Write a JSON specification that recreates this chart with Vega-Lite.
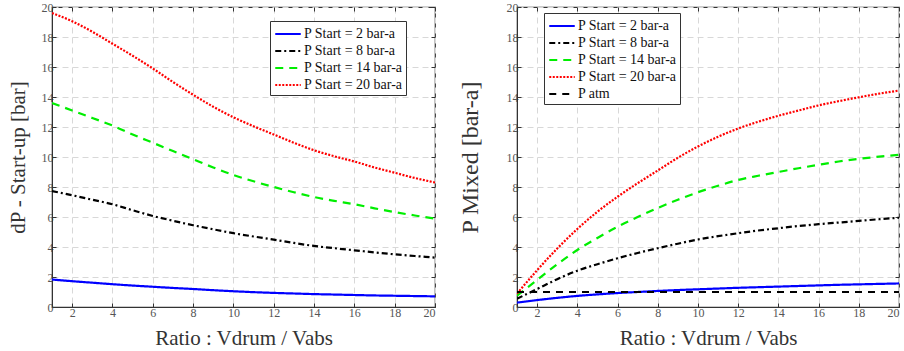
{
  "$schema": "https://vega.github.io/schema/vega-lite/v6.json",
  "padding": {"left": 6, "top": 0, "right": 4, "bottom": 2},
  "background": "white",
  "spacing": 20,
  "config": {
    "font": "Liberation Serif, Times New Roman, serif",
    "view": {"stroke": "#333", "strokeWidth": 1.2},
    "axis": {
      "labelFont": "Liberation Serif, Times New Roman, serif", "labelFontSize": 12, "labelColor": "#555",
      "titleFont": "Liberation Serif, Times New Roman, serif", "titleFontSize": 21, "titleFontWeight": "normal", "titleColor": "#333",
      "gridDash": [6, 4], "gridColor": "#d8d8d8", "gridWidth": 1,
      "domainColor": "#333", "tickColor": "#333", "tickSize": -4, "labelPadding": 4
    },
    "legend": {
      "labelFont": "Liberation Serif, Times New Roman, serif", "labelFontSize": 14, "labelColor": "#111",
      "strokeColor": "#333", "fillColor": "white", "padding": 3, "rowPadding": 0,
      "symbolType": "M-1.5,0H1.5", "symbolSize": 289, "symbolStrokeWidth": 2.2,
      "symbolOffset": 5, "labelOffset": 6
    }
  },
  "datasets": {
    "dp": [
      {"s":"P Start = 2 bar-a","x":1,"y":1.83},{"s":"P Start = 2 bar-a","x":2,"y":1.72},{"s":"P Start = 2 bar-a","x":3,"y":1.62},{"s":"P Start = 2 bar-a","x":4,"y":1.52},{"s":"P Start = 2 bar-a","x":5,"y":1.43},{"s":"P Start = 2 bar-a","x":6,"y":1.35},{"s":"P Start = 2 bar-a","x":7,"y":1.27},{"s":"P Start = 2 bar-a","x":8,"y":1.2},{"s":"P Start = 2 bar-a","x":9,"y":1.12},{"s":"P Start = 2 bar-a","x":10,"y":1.05},{"s":"P Start = 2 bar-a","x":11,"y":0.99},{"s":"P Start = 2 bar-a","x":12,"y":0.94},{"s":"P Start = 2 bar-a","x":13,"y":0.9},{"s":"P Start = 2 bar-a","x":14,"y":0.86},{"s":"P Start = 2 bar-a","x":15,"y":0.83},{"s":"P Start = 2 bar-a","x":16,"y":0.8},{"s":"P Start = 2 bar-a","x":17,"y":0.77},{"s":"P Start = 2 bar-a","x":18,"y":0.75},{"s":"P Start = 2 bar-a","x":19,"y":0.73},{"s":"P Start = 2 bar-a","x":20,"y":0.71},
      {"s":"P Start = 8 bar-a","x":1,"y":7.73},{"s":"P Start = 8 bar-a","x":2,"y":7.45},{"s":"P Start = 8 bar-a","x":3,"y":7.15},{"s":"P Start = 8 bar-a","x":4,"y":6.85},{"s":"P Start = 8 bar-a","x":5,"y":6.45},{"s":"P Start = 8 bar-a","x":6,"y":6.07},{"s":"P Start = 8 bar-a","x":7,"y":5.75},{"s":"P Start = 8 bar-a","x":8,"y":5.45},{"s":"P Start = 8 bar-a","x":9,"y":5.18},{"s":"P Start = 8 bar-a","x":10,"y":4.92},{"s":"P Start = 8 bar-a","x":11,"y":4.7},{"s":"P Start = 8 bar-a","x":12,"y":4.49},{"s":"P Start = 8 bar-a","x":13,"y":4.27},{"s":"P Start = 8 bar-a","x":14,"y":4.07},{"s":"P Start = 8 bar-a","x":15,"y":3.92},{"s":"P Start = 8 bar-a","x":16,"y":3.78},{"s":"P Start = 8 bar-a","x":17,"y":3.64},{"s":"P Start = 8 bar-a","x":18,"y":3.51},{"s":"P Start = 8 bar-a","x":19,"y":3.4},{"s":"P Start = 8 bar-a","x":20,"y":3.29},
      {"s":"P Start = 14 bar-a","x":1,"y":13.6},{"s":"P Start = 14 bar-a","x":2,"y":13.1},{"s":"P Start = 14 bar-a","x":3,"y":12.6},{"s":"P Start = 14 bar-a","x":4,"y":12.1},{"s":"P Start = 14 bar-a","x":5,"y":11.5},{"s":"P Start = 14 bar-a","x":6,"y":10.95},{"s":"P Start = 14 bar-a","x":7,"y":10.4},{"s":"P Start = 14 bar-a","x":8,"y":9.85},{"s":"P Start = 14 bar-a","x":9,"y":9.3},{"s":"P Start = 14 bar-a","x":10,"y":8.8},{"s":"P Start = 14 bar-a","x":11,"y":8.38},{"s":"P Start = 14 bar-a","x":12,"y":8.0},{"s":"P Start = 14 bar-a","x":13,"y":7.65},{"s":"P Start = 14 bar-a","x":14,"y":7.33},{"s":"P Start = 14 bar-a","x":15,"y":7.08},{"s":"P Start = 14 bar-a","x":16,"y":6.85},{"s":"P Start = 14 bar-a","x":17,"y":6.58},{"s":"P Start = 14 bar-a","x":18,"y":6.33},{"s":"P Start = 14 bar-a","x":19,"y":6.1},{"s":"P Start = 14 bar-a","x":20,"y":5.89},
      {"s":"P Start = 20 bar-a","x":1,"y":19.6},{"s":"P Start = 20 bar-a","x":2,"y":19.05},{"s":"P Start = 20 bar-a","x":3,"y":18.35},{"s":"P Start = 20 bar-a","x":4,"y":17.55},{"s":"P Start = 20 bar-a","x":5,"y":16.75},{"s":"P Start = 20 bar-a","x":6,"y":15.9},{"s":"P Start = 20 bar-a","x":7,"y":15.0},{"s":"P Start = 20 bar-a","x":8,"y":14.15},{"s":"P Start = 20 bar-a","x":9,"y":13.35},{"s":"P Start = 20 bar-a","x":10,"y":12.65},{"s":"P Start = 20 bar-a","x":11,"y":12.05},{"s":"P Start = 20 bar-a","x":12,"y":11.5},{"s":"P Start = 20 bar-a","x":13,"y":10.95},{"s":"P Start = 20 bar-a","x":14,"y":10.45},{"s":"P Start = 20 bar-a","x":15,"y":10.05},{"s":"P Start = 20 bar-a","x":16,"y":9.7},{"s":"P Start = 20 bar-a","x":17,"y":9.3},{"s":"P Start = 20 bar-a","x":18,"y":8.95},{"s":"P Start = 20 bar-a","x":19,"y":8.6},{"s":"P Start = 20 bar-a","x":20,"y":8.3}
    ],
    "pm": [
      {"s":"P Start = 2 bar-a","x":1,"y":0.29},{"s":"P Start = 2 bar-a","x":2,"y":0.46},{"s":"P Start = 2 bar-a","x":3,"y":0.61},{"s":"P Start = 2 bar-a","x":4,"y":0.74},{"s":"P Start = 2 bar-a","x":5,"y":0.84},{"s":"P Start = 2 bar-a","x":6,"y":0.93},{"s":"P Start = 2 bar-a","x":7,"y":1.0},{"s":"P Start = 2 bar-a","x":8,"y":1.07},{"s":"P Start = 2 bar-a","x":9,"y":1.13},{"s":"P Start = 2 bar-a","x":10,"y":1.18},{"s":"P Start = 2 bar-a","x":11,"y":1.23},{"s":"P Start = 2 bar-a","x":12,"y":1.28},{"s":"P Start = 2 bar-a","x":13,"y":1.32},{"s":"P Start = 2 bar-a","x":14,"y":1.36},{"s":"P Start = 2 bar-a","x":15,"y":1.4},{"s":"P Start = 2 bar-a","x":16,"y":1.44},{"s":"P Start = 2 bar-a","x":17,"y":1.48},{"s":"P Start = 2 bar-a","x":18,"y":1.51},{"s":"P Start = 2 bar-a","x":19,"y":1.54},{"s":"P Start = 2 bar-a","x":20,"y":1.57},
      {"s":"P Start = 8 bar-a","x":1,"y":0.55},{"s":"P Start = 8 bar-a","x":2,"y":1.2},{"s":"P Start = 8 bar-a","x":3,"y":1.85},{"s":"P Start = 8 bar-a","x":4,"y":2.42},{"s":"P Start = 8 bar-a","x":5,"y":2.85},{"s":"P Start = 8 bar-a","x":6,"y":3.25},{"s":"P Start = 8 bar-a","x":7,"y":3.6},{"s":"P Start = 8 bar-a","x":8,"y":3.92},{"s":"P Start = 8 bar-a","x":9,"y":4.22},{"s":"P Start = 8 bar-a","x":10,"y":4.5},{"s":"P Start = 8 bar-a","x":11,"y":4.72},{"s":"P Start = 8 bar-a","x":12,"y":4.92},{"s":"P Start = 8 bar-a","x":13,"y":5.1},{"s":"P Start = 8 bar-a","x":14,"y":5.25},{"s":"P Start = 8 bar-a","x":15,"y":5.4},{"s":"P Start = 8 bar-a","x":16,"y":5.52},{"s":"P Start = 8 bar-a","x":17,"y":5.63},{"s":"P Start = 8 bar-a","x":18,"y":5.74},{"s":"P Start = 8 bar-a","x":19,"y":5.85},{"s":"P Start = 8 bar-a","x":20,"y":5.95},
      {"s":"P Start = 14 bar-a","x":1,"y":0.75},{"s":"P Start = 14 bar-a","x":2,"y":1.8},{"s":"P Start = 14 bar-a","x":3,"y":2.85},{"s":"P Start = 14 bar-a","x":4,"y":3.8},{"s":"P Start = 14 bar-a","x":5,"y":4.6},{"s":"P Start = 14 bar-a","x":6,"y":5.35},{"s":"P Start = 14 bar-a","x":7,"y":6.0},{"s":"P Start = 14 bar-a","x":8,"y":6.6},{"s":"P Start = 14 bar-a","x":9,"y":7.15},{"s":"P Start = 14 bar-a","x":10,"y":7.65},{"s":"P Start = 14 bar-a","x":11,"y":8.08},{"s":"P Start = 14 bar-a","x":12,"y":8.47},{"s":"P Start = 14 bar-a","x":13,"y":8.75},{"s":"P Start = 14 bar-a","x":14,"y":9.0},{"s":"P Start = 14 bar-a","x":15,"y":9.25},{"s":"P Start = 14 bar-a","x":16,"y":9.48},{"s":"P Start = 14 bar-a","x":17,"y":9.7},{"s":"P Start = 14 bar-a","x":18,"y":9.88},{"s":"P Start = 14 bar-a","x":19,"y":10.02},{"s":"P Start = 14 bar-a","x":20,"y":10.15},
      {"s":"P Start = 20 bar-a","x":1,"y":0.89},{"s":"P Start = 20 bar-a","x":2,"y":2.45},{"s":"P Start = 20 bar-a","x":3,"y":3.9},{"s":"P Start = 20 bar-a","x":4,"y":5.2},{"s":"P Start = 20 bar-a","x":5,"y":6.35},{"s":"P Start = 20 bar-a","x":6,"y":7.35},{"s":"P Start = 20 bar-a","x":7,"y":8.25},{"s":"P Start = 20 bar-a","x":8,"y":9.1},{"s":"P Start = 20 bar-a","x":9,"y":9.95},{"s":"P Start = 20 bar-a","x":10,"y":10.7},{"s":"P Start = 20 bar-a","x":11,"y":11.35},{"s":"P Start = 20 bar-a","x":12,"y":11.9},{"s":"P Start = 20 bar-a","x":13,"y":12.35},{"s":"P Start = 20 bar-a","x":14,"y":12.75},{"s":"P Start = 20 bar-a","x":15,"y":13.1},{"s":"P Start = 20 bar-a","x":16,"y":13.44},{"s":"P Start = 20 bar-a","x":17,"y":13.72},{"s":"P Start = 20 bar-a","x":18,"y":13.98},{"s":"P Start = 20 bar-a","x":19,"y":14.22},{"s":"P Start = 20 bar-a","x":20,"y":14.43},
      {"s":"P atm","x":1,"y":1},{"s":"P atm","x":20,"y":1}
    ]
  },
  "resolve": {"scale": {"color": "independent", "strokeDash": "independent"}, "legend": {"color": "independent", "strokeDash": "independent"}},
  "hconcat": [
    {
      "width": 383, "height": 300,
      "data": {"name": "dp"},
      "resolve": {"axis": {"x": "independent", "y": "independent"}},
      "layer": [
        {
          "mark": {"type": "line", "strokeWidth": 2.2, "interpolate": "monotone", "clip": true},
          "encoding": {
            "x": {"field": "x", "type": "quantitative", "scale": {"domain": [1, 20], "nice": false}, "axis": {"values": [2,4,6,8,10,12,14,16,18,20], "title": "Ratio : Vdrum / Vabs", "titlePadding": 9}},
            "y": {"field": "y", "type": "quantitative", "scale": {"domain": [0, 20], "nice": false}, "axis": {"values": [0,2,4,6,8,10,12,14,16,18,20], "title": "dP - Start-up [bar]", "titlePadding": 13, "labelPadding": 3}},
            "color": {"field": "s", "type": "nominal", "scale": {"domain": ["P Start = 2 bar-a","P Start = 8 bar-a","P Start = 14 bar-a","P Start = 20 bar-a"], "range": ["#0000ff","#000000","#00ee00","#ff0000"]},
              "legend": {"title": null, "orient": "none", "legendX": 218, "legendY": 14}},
            "strokeDash": {"field": "s", "type": "nominal", "scale": {"domain": ["P Start = 2 bar-a","P Start = 8 bar-a","P Start = 14 bar-a","P Start = 20 bar-a"], "range": [[1,0],[6,3,2,3],[8,6],[2,1.5]]},
              "legend": {"title": null, "orient": "none", "legendX": 218, "legendY": 14}}
          }
        },
        {
          "mark": {"type": "line", "opacity": 0},
          "encoding": {
            "x": {"field": "x", "type": "quantitative", "axis": {"orient": "top", "values": [2,4,6,8,10,12,14,16,18,20], "labels": false, "title": null, "grid": false, "domain": false}},
            "y": {"field": "y", "type": "quantitative", "axis": {"orient": "right", "values": [0,2,4,6,8,10,12,14,16,18,20], "labels": false, "title": null, "grid": false, "domain": false}},
            "detail": {"field": "s"}
          }
        }
      ]
    },
    {
      "width": 382, "height": 300,
      "data": {"name": "pm"},
      "resolve": {"axis": {"x": "independent", "y": "independent"}},
      "layer": [
        {
          "mark": {"type": "line", "strokeWidth": 2.2, "interpolate": "monotone", "clip": true},
          "encoding": {
            "x": {"field": "x", "type": "quantitative", "scale": {"domain": [1, 20], "nice": false}, "axis": {"values": [2,4,6,8,10,12,14,16,18,20], "title": "Ratio : Vdrum / Vabs", "titlePadding": 9}},
            "y": {"field": "y", "type": "quantitative", "scale": {"domain": [0, 20], "nice": false}, "axis": {"values": [0,2,4,6,8,10,12,14,16,18,20], "title": "P Mixed [bar-a]", "titlePadding": 24, "labelPadding": 3, "titleFontSize": 24}},
            "color": {"field": "s", "type": "nominal", "scale": {"domain": ["P Start = 2 bar-a","P Start = 8 bar-a","P Start = 14 bar-a","P Start = 20 bar-a","P atm"], "range": ["#0000ff","#000000","#00ee00","#ff0000","#000000"]},
              "legend": {"title": null, "orient": "none", "legendX": 27, "legendY": 6}},
            "strokeDash": {"field": "s", "type": "nominal", "scale": {"domain": ["P Start = 2 bar-a","P Start = 8 bar-a","P Start = 14 bar-a","P Start = 20 bar-a","P atm"], "range": [[1,0],[6,3,2,3],[8,6],[2,1.5],[7,6]]},
              "legend": {"title": null, "orient": "none", "legendX": 27, "legendY": 6}}
          }
        },
        {
          "mark": {"type": "line", "opacity": 0},
          "encoding": {
            "x": {"field": "x", "type": "quantitative", "axis": {"orient": "top", "values": [2,4,6,8,10,12,14,16,18,20], "labels": false, "title": null, "grid": false, "domain": false}},
            "y": {"field": "y", "type": "quantitative", "axis": {"orient": "right", "values": [0,2,4,6,8,10,12,14,16,18,20], "labels": false, "title": null, "grid": false, "domain": false}},
            "detail": {"field": "s"}
          }
        }
      ]
    }
  ]
}
